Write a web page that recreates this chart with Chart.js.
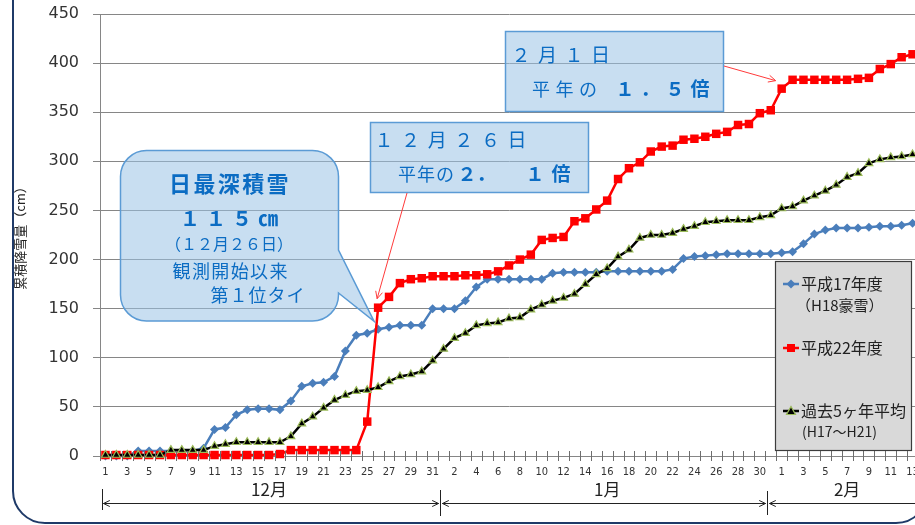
<!DOCTYPE html>
<html lang="ja">
<head>
<meta charset="utf-8">
<script src="https://cdn.jsdelivr.net/npm/chart.js@4.4.1/dist/chart.umd.min.js"></script>
<style>
  html, body { margin: 0; padding: 0; background: #fff; overflow: hidden; }
  #wrap { position: relative; width: 924px; height: 525px; }
</style>
</head>
<body>
<div id="wrap"><canvas id="snowChart" width="924" height="525"></canvas></div>
<script>
  // categories: Dec 1 .. Feb 13
  const decDays = [1,2,3,4,5,6,7,8,9,10,11,12,13,14,15,16,17,18,19,20,21,22,23,24,25,26,27,28,29,30,31];
  const janDays = [1,2,3,4,5,6,7,8,9,10,11,12,13,14,15,16,17,18,19,20,21,22,23,24,25,26,27,28,29,30,31];
  const febDays = [1,2,3,4,5,6,7,8,9,10,11,12,13];
  const monthNames = ['12月', '1月', '2月'];

  // 平成17年度（H18豪雪）
  const h17 = [0,0,0,5,5,5,5,5,5,8,27,29,42,47,48,48,47,56,71,74,75,81,107,123,125,129,131,133,133,133,150,
               150,150,158,172,180,180,180,180,180,180,186,187,187,187,187,188,188,188,188,188,188,190,201,203,204,205,206,206,206,206,206,
               207,208,216,226,230,232,232,232,233,234,234,235,237];
  // 平成22年度
  const h22 = [1,1,1,1,1,1,1,1,1,1,1,1,1,1,1,1,2,6,6,6,6,6,6,6,35,151,162,176,180,181,183,
               183,183,184,184,185,188,194,200,205,220,222,223,239,242,251,260,282,293,299,310,315,316,322,323,325,328,330,337,338,349,352,
               374,383,383,383,383,383,383,384,385,394,399,406,409];
  // 過去5ヶ年平均（H17～H21）
  const avg5 = [1,1,1,1,1,1,6,6,6,6,10,12,14,14,14,14,14,20,33,40,49,57,62,66,67,70,76,81,83,86,97,
                109,120,125,133,135,136,140,141,149,154,158,161,165,175,185,191,203,210,222,225,225,227,231,234,238,239,240,240,240,243,245,
                252,254,260,265,270,276,284,288,298,302,304,305,307];

  const yTicks = [0, 50, 100, 150, 200, 250, 300, 350, 400, 450];

  const labels = [...decDays, ...janDays, ...febDays];
  const monthOf = [...decDays.map(() => 0), ...janDays.map(() => 1), ...febDays.map(() => 2)];

  const JP = '"Noto Sans CJK JP", "Noto Sans", sans-serif';
  const BLUE_TXT = '#0b6cc3';

  function spaced(ctx, str, x, y, pitch) {
    [...str].forEach((ch, k) => ctx.fillText(ch, x + k * pitch, y));
  }

  function arrow(ctx, x1, y1, x2, y2, head) {
    const a = Math.atan2(y2 - y1, x2 - x1);
    ctx.beginPath();
    ctx.moveTo(x1, y1);
    ctx.lineTo(x2, y2);
    ctx.moveTo(x2 - head * Math.cos(a - 0.45), y2 - head * Math.sin(a - 0.45));
    ctx.lineTo(x2, y2);
    ctx.lineTo(x2 - head * Math.cos(a + 0.45), y2 - head * Math.sin(a + 0.45));
    ctx.stroke();
  }

  function marker(ctx, style, x, y, fill, stroke) {
    ctx.beginPath();
    if (style === 'diamond') {
      ctx.moveTo(x, y - 4.5); ctx.lineTo(x + 4.5, y); ctx.lineTo(x, y + 4.5); ctx.lineTo(x - 4.5, y);
    } else if (style === 'square') {
      ctx.rect(x - 4, y - 4, 8, 8);
    } else {
      ctx.moveTo(x, y - 4.5); ctx.lineTo(x + 4.5, y + 3.5); ctx.lineTo(x - 4.5, y + 3.5);
    }
    ctx.closePath();
    ctx.fillStyle = fill;
    ctx.fill();
    if (stroke) { ctx.strokeStyle = stroke; ctx.lineWidth = 1.2; ctx.stroke(); }
  }

  const decor = {
    id: 'decor',
    beforeDraw(chart) {
      const ctx = chart.ctx;
      ctx.save();
      ctx.fillStyle = '#fff';
      ctx.fillRect(0, 0, chart.width, chart.height);
      ctx.restore();
    },
    afterDraw(chart) {
      const ctx = chart.ctx;
      const xs = chart.scales.x, ys = chart.scales.y;
      const area = chart.chartArea;
      const step = xs.getPixelForValue(1) - xs.getPixelForValue(0);
      const edge = i => xs.getPixelForValue(i) - step / 2;
      const px = i => xs.getPixelForValue(i);
      const py = v => ys.getPixelForValue(v);

      ctx.save();
      ctx.textAlign = 'center';
      ctx.textBaseline = 'middle';

      // small cross ticks on the x axis
      ctx.strokeStyle = '#6e6e6e';
      ctx.lineWidth = 1;
      ctx.beginPath();
      for (let i = 0; i <= labels.length; i++) {
        const x = Math.round(edge(i)) + 0.5;
        ctx.moveTo(x, area.bottom - 5);
        ctx.lineTo(x, area.bottom + 5);
      }
      ctx.stroke();

      // month spans with arrows
      const starts = [0, decDays.length, decDays.length + janDays.length - 1];
      const bars = starts.map(i => Math.round(edge(i)) + 2.5);
      ctx.strokeStyle = '#222';
      ctx.fillStyle = '#222';
      ctx.beginPath();
      ctx.moveTo(bars[0], 489); ctx.lineTo(bars[0], 510);
      ctx.moveTo(bars[1], 490); ctx.lineTo(bars[1], 516);
      ctx.moveTo(bars[2], 491); ctx.lineTo(bars[2], 515);
      ctx.stroke();
      const ay = 503.5;
      arrow(ctx, bars[1] - 2, ay, bars[0] + 1, ay, 7);
      arrow(ctx, bars[0] + 1, ay, bars[1] - 2, ay, 7);
      arrow(ctx, bars[2] - 2, ay, bars[1] + 2, ay, 7);
      arrow(ctx, bars[1] + 2, ay, bars[2] - 2, ay, 7);
      arrow(ctx, chart.width, ay, bars[2] + 2, ay, 7);

      ctx.font = '17px ' + JP;
      monthNames.forEach((m, k) => {
        const idx = monthOf.map((v, i) => v === k ? i : -1).filter(i => i >= 0);
        const cx = (px(idx[0]) + px(idx[idx.length - 1])) / 2;
        ctx.fillText(m, cx, 490);
      });

      // outer rounded frame
      ctx.strokeStyle = '#1f3a68';
      ctx.lineWidth = 2;
      ctx.beginPath();
      ctx.roundRect(13, -60, 915, 583, 32);
      ctx.stroke();

      // callout: 日最深積雪
      const tipX = px(25) - 4, tipY = py(h17[25]) - 8;
      const L = 120.5, T = 150.5, R = 338.5, B = 321, r = 26;
      ctx.beginPath();
      ctx.moveTo(L + r, T);
      ctx.lineTo(R - r, T);
      ctx.arcTo(R, T, R, T + r, r);
      ctx.lineTo(R, 250);
      ctx.lineTo(tipX, tipY);
      ctx.lineTo(R, 293);
      ctx.arcTo(R, B, R - r, B, r);
      ctx.lineTo(L + r, B);
      ctx.arcTo(L, B, L, B - r, r);
      ctx.lineTo(L, T + r);
      ctx.arcTo(L, T, L + r, T, r);
      ctx.closePath();
      ctx.fillStyle = 'rgba(155,194,230,0.55)';
      ctx.fill();
      ctx.strokeStyle = '#5b9bd5';
      ctx.lineWidth = 1.5;
      ctx.stroke();

      ctx.fillStyle = BLUE_TXT;
      ctx.font = 'bold 22px ' + JP;
      spaced(ctx, '日最深積雪', 180, 184, 24.4);
      ctx.font = 'bold 20px ' + JP;
      spaced(ctx, '１１５㎝', 190, 218, 26);
      ctx.font = '16px ' + JP;
      ctx.fillText('（１２月２６日）', 229, 244);
      ctx.font = '18px ' + JP;
      spaced(ctx, '観測開始以来', 181.5, 271, 19.4);
      spaced(ctx, '第１位タイ', 219.5, 295, 19);

      // box: 12月26日
      ctx.fillStyle = 'rgba(155,194,230,0.55)';
      ctx.strokeStyle = '#5b9bd5';
      ctx.lineWidth = 1.5;
      ctx.fillRect(370.5, 122.5, 218, 70);
      ctx.strokeRect(370.5, 122.5, 218, 70);
      ctx.fillStyle = BLUE_TXT;
      ctx.font = '19px ' + JP;
      spaced(ctx, '１２月２６日', 384, 140, 26.6);
      ctx.font = '18px ' + JP;
      spaced(ctx, '平年の', 407, 174, 19);
      ctx.font = 'bold 19px ' + JP;
      spaced(ctx, '２．', 467, 174, 19);
      spaced(ctx, '１倍', 535, 174, 26);

      // box: 2月1日
      ctx.fillStyle = 'rgba(155,194,230,0.55)';
      ctx.fillRect(505.5, 31.5, 218, 80);
      ctx.strokeRect(505.5, 31.5, 218, 80);
      ctx.fillStyle = BLUE_TXT;
      ctx.font = '19px ' + JP;
      spaced(ctx, '２月１日', 521, 55, 26.5);
      ctx.font = '18px ' + JP;
      spaced(ctx, '平年の', 541, 89, 23.5);
      ctx.font = 'bold 19px ' + JP;
      spaced(ctx, '１．５倍', 625, 89, 25);

      // red pointer arrows
      ctx.strokeStyle = '#ff3b3b';
      ctx.lineWidth = 1;
      arrow(ctx, 407, 193, px(25) - 1, py(h22[25]) - 9, 8);
      arrow(ctx, 724, 66, px(62) - 6, py(h22[62]) - 8, 8);

      // legend box
      ctx.fillStyle = '#d9d9d9';
      ctx.fillRect(775.5, 261.5, 136, 189);
      ctx.strokeStyle = '#3c3c3c';
      ctx.lineWidth = 1.2;
      ctx.strokeRect(775.5, 261.5, 136, 189);

      const items = [
        { y: 284, color: '#4a7ebb', mk: 'diamond', lines: ['平成17年度', '（H18豪雪）'] },
        { y: 348, color: '#ff0000', mk: 'square', lines: ['平成22年度'] },
        { y: 411, color: '#000000', mk: 'triangle', stroke: '#9bbb59', lines: ['過去5ヶ年平均', '(H17～H21)'] }
      ];
      items.forEach(it => {
        ctx.strokeStyle = it.color;
        ctx.lineWidth = 2.5;
        ctx.beginPath();
        ctx.moveTo(783, it.y); ctx.lineTo(799, it.y);
        ctx.stroke();
        marker(ctx, it.mk, 791, it.y, it.color, it.stroke);
        ctx.fillStyle = '#222';
        ctx.textAlign = 'left';
        ctx.font = '16px ' + JP;
        ctx.fillText(it.lines[0], 801, it.y);
        if (it.lines[1]) {
          const full = it.lines[1][0] === '（';
          ctx.font = (full ? '15px ' : '14px ') + JP;
          ctx.fillText(it.lines[1], full ? 796 : 802, it.y + 21);
        }
      });

      ctx.restore();
    }
  };

  const myChart = new Chart(document.getElementById('snowChart'), {
    type: 'line',
    data: {
      labels: labels,
      datasets: [
        {
          label: '平成17年度（H18豪雪）',
          data: h17,
          borderColor: '#4a7ebb',
          backgroundColor: '#4a7ebb',
          borderWidth: 2.5,
          pointStyle: 'rectRot',
          pointRadius: 4.5,
          pointBorderWidth: 0,
          tension: 0,
          clip: false,
          order: 3
        },
        {
          label: '平成22年度',
          data: h22,
          borderColor: '#ff0000',
          backgroundColor: '#ff0000',
          borderWidth: 2.5,
          pointStyle: 'rect',
          pointRadius: 6,
          pointBorderWidth: 0,
          tension: 0,
          clip: false,
          order: 2
        },
        {
          label: '過去5ヶ年平均（H17～H21）',
          data: avg5,
          borderColor: '#000000',
          backgroundColor: '#000000',
          borderWidth: 2.5,
          pointStyle: 'triangle',
          pointRadius: 4.5,
          pointBackgroundColor: '#000000',
          pointBorderColor: '#9bbb59',
          pointBorderWidth: 1.2,
          tension: 0,
          clip: false,
          order: 1
        }
      ]
    },
    options: {
      responsive: false,
      animation: false,
      layout: { padding: { top: 0, left: 0, right: 0, bottom: 0 } },
      plugins: {
        legend: { display: false },
        tooltip: { enabled: false }
      },
      scales: {
        x: {
          type: 'category',
          offset: true,
          grid: { display: false, offset: true, drawTicks: true, tickLength: 10 },
          border: { display: true, color: '#868686', width: 1 },
          ticks: {
            autoSkip: false,
            maxRotation: 0,
            minRotation: 0,
            padding: 0,
            color: '#333',
            font: { family: '"Liberation Sans Narrow", "DejaVu Sans Condensed", "Liberation Sans", sans-serif', size: 11 },
            callback: function (v, i) { return i % 2 === 0 ? this.getLabelForValue(v) : ''; }
          },
          afterFit: s => { s.height = 69; s.paddingLeft = 0; s.paddingRight = 0; }
        },
        y: {
          min: 0,
          max: 450,
          afterBuildTicks: s => { s.ticks = yTicks.map(v => ({ value: v })); },
          ticks: {
            padding: 14,
            color: '#333',
            font: { family: '"DejaVu Sans", sans-serif', size: 16 }
          },
          grid: { color: '#868686', lineWidth: 1, tickLength: 7 },
          border: { display: true, color: '#868686', width: 1 },
          title: {
            display: true,
            text: '累積降雪量（cm）',
            color: '#222',
            font: { family: JP, size: 13 },
            padding: { top: 12, bottom: 0 }
          },
          afterFit: s => { s.width = 100; s.paddingTop = 14; s.paddingBottom = 0; }
        }
      }
    },
    plugins: [decor]
  });
</script>
</body>
</html>
